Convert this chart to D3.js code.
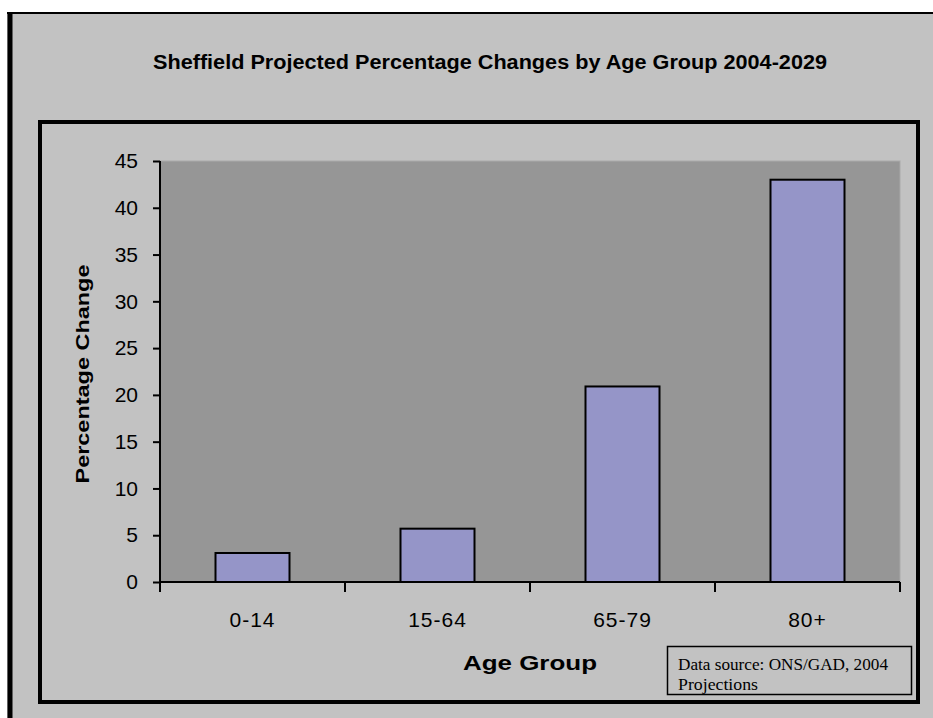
<!DOCTYPE html>
<html><head><meta charset="utf-8">
<script src="https://cdn.jsdelivr.net/npm/d3@7"></script>
<style>
html,body{margin:0;padding:0;background:#fff;}
svg{display:block;}
</style></head>
<body>
<svg id="chart" width="933" height="718" font-family="'Liberation Sans', Arial, sans-serif"></svg>
<script>
const categories = ["0-14", "15-64", "65-79", "80+"];
const values = [3.1, 5.7, 20.9, 43.0];
const yTicks = [0, 5, 10, 15, 20, 25, 30, 35, 40, 45];
const titleText = "Sheffield Projected Percentage Changes by Age Group 2004-2029";
const xTitle = "Age Group";
const yTitle = "Percentage Change";
const sourceLines = ["Data source: ONS/GAD, 2004", "Projections"];

const svg = d3.select("#chart");
const W = 933, H = 718;
const sans = "'Liberation Sans', Arial, sans-serif";
const serif = "'Liberation Serif', 'Times New Roman', serif";

// outer chart area
svg.append("rect").attr("x", 7).attr("y", 12).attr("width", W).attr("height", H)
  .attr("fill", "#c2c2c2");
svg.append("line").attr("x1", 7).attr("x2", W).attr("y1", 13).attr("y2", 13)
  .attr("stroke", "#000").attr("stroke-width", 2);
svg.append("line").attr("x1", 10).attr("x2", 10).attr("y1", 12).attr("y2", H)
  .attr("stroke", "#000").attr("stroke-width", 5);

// title
svg.append("text").attr("x", 490).attr("y", 69).attr("text-anchor", "middle")
  .style("font-family", sans)
  .attr("font-weight", "bold").attr("font-size", 20)
  .attr("textLength", 674).attr("lengthAdjust", "spacingAndGlyphs")
  .text(titleText);

// inner frame
svg.append("rect").attr("x", 40).attr("y", 122).attr("width", 878).attr("height", 580)
  .attr("fill", "#c2c2c2").attr("stroke", "#000").attr("stroke-width", 4);

const plot = {left: 160, right: 900, top: 161, bottom: 582};

const x = d3.scaleBand().domain(categories).range([plot.left, plot.right])
  .paddingInner(0.6).paddingOuter(0.3);
const y = d3.scaleLinear().domain([0, 45]).range([plot.bottom, plot.top]);

// plot area
svg.append("rect").attr("x", plot.left).attr("y", plot.top)
  .attr("width", plot.right - plot.left).attr("height", plot.bottom - plot.top)
  .attr("fill", "#969696").attr("stroke", "#a9a9a9").attr("stroke-width", 1);

// bars
svg.append("g").selectAll("rect").data(values).join("rect")
  .attr("x", (d, i) => x(categories[i]))
  .attr("y", d => y(d))
  .attr("width", x.bandwidth())
  .attr("height", d => y(0) - y(d))
  .attr("fill", "#9595c8").attr("stroke", "#000").attr("stroke-width", 2);

// y axis
const yAxis = svg.append("g").attr("transform", `translate(${plot.left},0)`)
  .call(d3.axisLeft(y).tickValues(yTicks).tickSize(7).tickPadding(15).tickSizeOuter(0));
yAxis.select(".domain").attr("stroke", "#000").attr("stroke-width", 2)
  .attr("d", `M0,${plot.top}V${plot.bottom + 10}`);
yAxis.selectAll(".tick line").attr("stroke", "#000").attr("stroke-width", 2);
yAxis.selectAll(".tick text").style("font-family", sans).attr("font-size", 21).attr("fill", "#000");

// x axis (labels)
const xAxis = svg.append("g").attr("transform", `translate(0,${plot.bottom})`)
  .call(d3.axisBottom(x).tickSize(0).tickPadding(0));
xAxis.select(".domain").attr("stroke", "#000").attr("stroke-width", 2)
  .attr("d", `M${plot.left},0H${plot.right}`);
xAxis.selectAll(".tick text").style("font-family", sans).attr("font-size", 21).attr("fill", "#000")
  .attr("y", 45).attr("dy", 0)
  .attr("letter-spacing", 1);

// x boundary ticks
const step = x.step();
const bounds = categories.map(c => x(c) + x.bandwidth() / 2 + step / 2);
xAxis.append("g").selectAll("line").data(bounds).join("line")
  .attr("x1", d => d).attr("x2", d => d).attr("y1", 0).attr("y2", 10)
  .attr("stroke", "#000").attr("stroke-width", 2);

// axis titles
svg.append("text").attr("x", 530).attr("y", 670).attr("text-anchor", "middle")
  .style("font-family", sans)
  .attr("font-weight", "bold").attr("font-size", 20)
  .attr("textLength", 134).attr("lengthAdjust", "spacingAndGlyphs")
  .text(xTitle);
svg.append("text").attr("transform", "translate(89,374) rotate(-90)")
  .style("font-family", sans)
  .attr("text-anchor", "middle").attr("font-weight", "bold").attr("font-size", 19)
  .attr("textLength", 219).attr("lengthAdjust", "spacingAndGlyphs")
  .text(yTitle);

// data source box
svg.append("rect").attr("x", 667.5).attr("y", 646.5).attr("width", 244).attr("height", 48)
  .attr("fill", "none").attr("stroke", "#000").attr("stroke-width", 1.5);
svg.append("g").selectAll("text").data(sourceLines).join("text")
  .attr("x", 678).attr("y", (d, i) => 670 + i * 20)
  .style("font-family", serif)
  .attr("font-size", 16)
  .attr("textLength", (d, i) => i === 0 ? 210 : 80)
  .attr("lengthAdjust", "spacingAndGlyphs")
  .text(d => d);
</script>
</body></html>
